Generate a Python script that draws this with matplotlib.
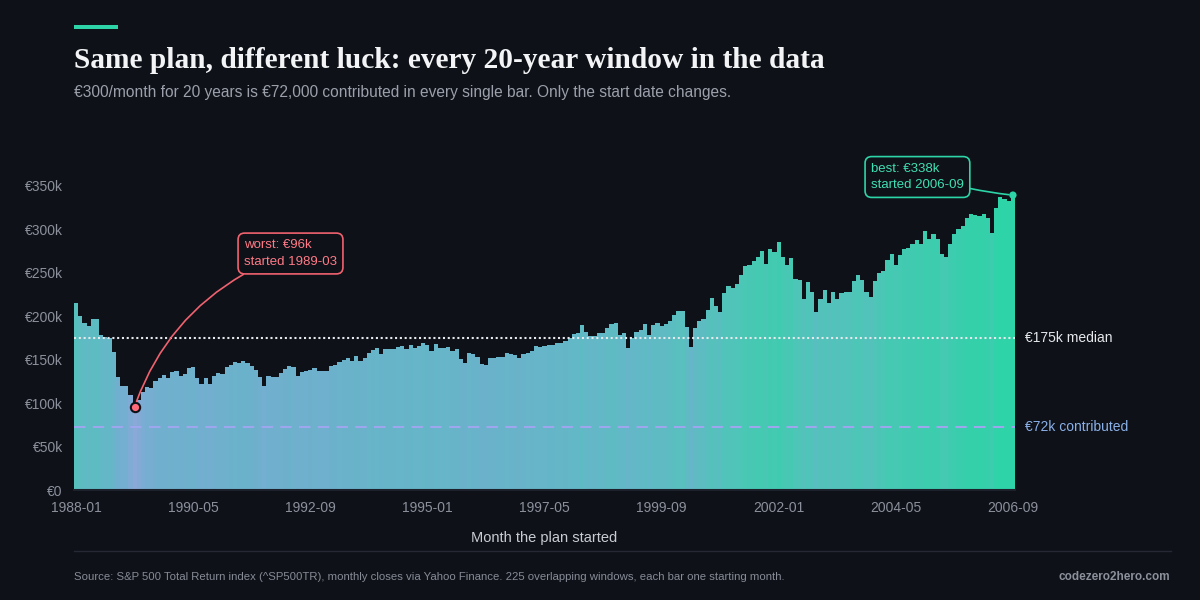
import numpy as np
import matplotlib
matplotlib.use("Agg")
import matplotlib.pyplot as plt
from matplotlib.colors import LinearSegmentedColormap, Normalize
from matplotlib.patches import Rectangle
from matplotlib.lines import Line2D

# final value of each 20-year window, in thousands of euro
values_k = [
    215, 200, 192, 189, 197, 197, 179, 176, 175, 159, 130, 120, 120, 109, 96, 104,
    113, 119, 117, 126, 129, 132, 129, 136, 137, 131, 134, 140, 142, 129, 122, 129,
    122, 131, 135, 134, 142, 144, 147, 146, 149, 146, 143, 138, 130, 120, 131, 130,
    130, 135, 139, 143, 142, 131, 136, 137, 138, 140, 137, 137, 137, 143, 144, 147,
    150, 152, 149, 154, 149, 152, 158, 161, 164, 157, 162, 162, 162, 165, 166, 162,
    167, 164, 166, 169, 167, 160, 168, 164, 164, 165, 160, 162, 151, 146, 158, 157,
    153, 145, 144, 152, 152, 153, 153, 158, 157, 155, 152, 157, 158, 160, 166, 165,
    166, 167, 167, 169, 169, 172, 175, 180, 181, 190, 182, 177, 177, 181, 181, 187,
    191, 192, 179, 181, 164, 175, 182, 184, 191, 179, 190, 192, 189, 191, 195, 202,
    206, 206, 188, 165, 186, 194, 197, 207, 221, 212, 205, 227, 235, 232, 237, 247,
    258, 259, 264, 268, 275, 260, 278, 274, 285, 268, 259, 267, 243, 242, 220, 239,
    228, 205, 220, 230, 215, 228, 220, 227, 228, 228, 241, 247, 242, 228, 222, 241,
    250, 252, 265, 272, 259, 270, 278, 279, 283, 288, 283, 298, 289, 295, 289, 272,
    268, 283, 295, 300, 304, 313, 318, 317, 316, 318, 313, 296, 325, 337, 335, 333,
    338,
]
start_months = [f"{1988 + i // 12}-{i % 12 + 1:02d}" for i in range(len(values_k))]
tick_every = 28
median_k = 175
contributed_k = 72
yticks_k = [0, 50, 100, 150, 200, 250, 300, 350]

# colour stops: (value in k, colour)
colour_stops = [(96, "#8aa8d8"), (120, "#74aed0"), (150, "#6ab2ca"), (180, "#62b8c6"),
                (215, "#56c1bc"), (260, "#48c8b4"), (300, "#3acdad"), (338, "#2dd4a7")]

BG = "#0e1118"
GREEN = "#2dd4a7"
RED = "#f0626f"
GREY = "#8b909b"

plt.rcParams["font.family"] = ["Liberation Sans", "DejaVu Sans"]

vals = np.array(values_k, dtype=float)
x = np.arange(len(vals))
worst = int(np.argmin(vals))
best = int(np.argmax(vals))

fig = plt.figure(figsize=(12, 6), dpi=100)
fig.patch.set_facecolor(BG)

W, H = 1200, 600
def fx(px):
    return px / W
def fy(py):
    return 1 - py / H

ymax = 370
ax_h = ymax / 350 * 304 / H
ax = fig.add_axes([fx(74), 110 / H, 941 / W, ax_h])
ax.set_facecolor(BG)

lo, hi = colour_stops[0][0], colour_stops[-1][0]
cmap = LinearSegmentedColormap.from_list(
    "luck", [((v - lo) / (hi - lo), c) for v, c in colour_stops])
norm = Normalize(vmin=lo, vmax=hi)
cols = cmap(norm(vals))
ax.bar(x, vals, width=1.0, color=cols, linewidth=0, antialiased=False, zorder=2)

ax.set_xlim(-0.5, len(vals) - 0.5)
ax.set_ylim(0, ymax)

# reference lines
ax.axhline(median_k, color="#e6e8ec", lw=1.5, linestyle=(0, (1, 1.3)), zorder=3)
ax.axhline(contributed_k, color="#9ea6ee", lw=1.5, linestyle=(0, (5.5, 3.5)), zorder=3)
ax.text(1.011, median_k, f"€{median_k}k median", transform=ax.get_yaxis_transform(),
        color="#e6e8ec", fontsize=10, va="center", ha="left")
ax.text(1.011, contributed_k, f"€{contributed_k}k contributed", transform=ax.get_yaxis_transform(),
        color="#8ab0e8", fontsize=10, va="center", ha="left")

# ticks
ticks = list(range(0, len(vals), tick_every))
ax.set_xticks(ticks)
ax.set_xticklabels([start_months[i] for i in ticks])
ax.set_yticks(yticks_k)
ax.set_yticklabels(["€0" if v == 0 else f"€{v}k" for v in yticks_k])
ax.tick_params(axis="both", length=0, colors=GREY, labelsize=10)
ax.tick_params(axis="x", pad=8)
ax.tick_params(axis="y", pad=8)
for s in ["top", "right", "left"]:
    ax.spines[s].set_visible(False)
ax.spines["bottom"].set_color("#1d212b")
ax.spines["bottom"].set_linewidth(1.5)

# worst / best markers
ax.scatter([worst], [vals[worst]], s=45, color="#ff6b7a", edgecolor=BG, linewidth=1.5, zorder=6, clip_on=False)
ax.scatter([best], [vals[best] + 1.5], s=28, color=GREEN, edgecolor="none", zorder=6, clip_on=False)

ax.annotate(f"worst: €{vals[worst]:.0f}k\nstarted {start_months[worst]}",
            xy=(worst, vals[worst]), xycoords="data",
            xytext=(244, 600 - 253.5), textcoords="figure pixels",
            color="#ff7a86", fontsize=9.5, va="center", ha="left", linespacing=1.55,
            bbox=dict(boxstyle="round,pad=0.45,rounding_size=0.5", fc=BG, ec=RED, lw=1.2),
            arrowprops=dict(arrowstyle="-", color=RED, lw=1.2, relpos=(0.12, 0),
                            connectionstyle="arc3,rad=0.2", shrinkA=0, shrinkB=4),
            zorder=7, annotation_clip=False)

ax.annotate(f"best: €{vals[best]:.0f}k\nstarted {start_months[best]}",
            xy=(best, vals[best] + 1.5), xycoords="data",
            xytext=(871, 600 - 177), textcoords="figure pixels",
            color="#3fe0b4", fontsize=9.5, va="center", ha="left", linespacing=1.55,
            bbox=dict(boxstyle="round,pad=0.45,rounding_size=0.5", fc=BG, ec=GREEN, lw=1.2),
            arrowprops=dict(arrowstyle="-", color=GREEN, lw=1.2, relpos=(1, 0.15),
                            connectionstyle="arc3,rad=0.03", shrinkA=0, shrinkB=3),
            zorder=7, annotation_clip=False)

# header
fig.patches.append(Rectangle((fx(74), fy(29)), 44 / W, 4 / H, transform=fig.transFigure,
                             facecolor=GREEN, edgecolor="none"))
fig.text(fx(74), fy(68), "Same plan, different luck: every 20-year window in the data",
         family=["Liberation Serif", "DejaVu Serif"], weight="bold", fontsize=21.2,
         color="#f3f4f6", va="baseline", ha="left")
fig.text(fx(74), fy(93), "€300/month for 20 years is €72,000 contributed in every single bar. Only the start date changes.",
         fontsize=11.2, color="#9ba0aa", va="center", ha="left")

# axis title and footer
fig.text(fx(544), fy(538), "Month the plan started", fontsize=10.5, color="#c9ccd3", ha="center", va="center")
fig.lines.append(Line2D([fx(74), fx(1171)], [fy(551), fy(551)], transform=fig.transFigure,
                        color="#252934", lw=1))
fig.text(fx(74), fy(577), "Source: S&P 500 Total Return index (^SP500TR), monthly closes via Yahoo Finance. "
         "225 overlapping windows, each bar one starting month.",
         fontsize=8.2, color="#868b96", ha="left", va="center")
fig.text(fx(1170), fy(577), "codezero2hero.com", fontsize=8.5, weight="bold", color="#8b909b",
         ha="right", va="center")

fig.savefig("out.png", dpi=100, facecolor=BG)
